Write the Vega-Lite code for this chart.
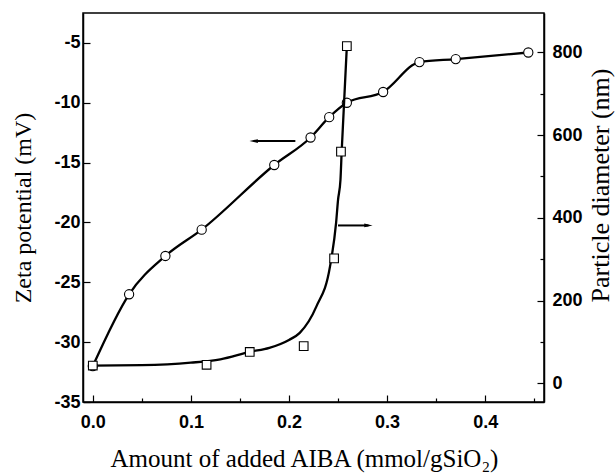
{
  "$schema": "https://vega.github.io/schema/vega-lite/v6.json",
  "width": 461,
  "height": 389,
  "autosize": {"type": "none"},
  "padding": {"left": 83, "top": 13, "right": 71, "bottom": 71},
  "background": "white",
  "config": {
    "view": {"stroke": "black", "strokeWidth": 1.5},
    "axis": {
      "domainColor": "black",
      "domainWidth": 1.5,
      "tickColor": "black",
      "tickWidth": 1.2,
      "labelFont": "Liberation Sans",
      "labelFontWeight": "bold",
      "labelFontSize": 18,
      "labelColor": "black",
      "titleFont": "Liberation Serif",
      "titleFontWeight": "normal",
      "titleFontSize": 24,
      "titleColor": "black",
      "grid": false
    }
  },
  "datasets": {
    "zeta": [
      {"x": 0.0, "zeta": -32.0},
      {"x": 0.037, "zeta": -26.0},
      {"x": 0.074, "zeta": -22.8},
      {"x": 0.111, "zeta": -20.6},
      {"x": 0.185, "zeta": -15.2},
      {"x": 0.222, "zeta": -12.9},
      {"x": 0.241, "zeta": -11.2},
      {"x": 0.259, "zeta": -10.0},
      {"x": 0.296, "zeta": -9.1},
      {"x": 0.333, "zeta": -6.6},
      {"x": 0.370, "zeta": -6.35},
      {"x": 0.444, "zeta": -5.8}
    ],
    "diam": [
      {"x": 0.0, "d": 43},
      {"x": 0.116, "d": 45},
      {"x": 0.160, "d": 76},
      {"x": 0.215, "d": 90},
      {"x": 0.246, "d": 302},
      {"x": 0.253, "d": 560},
      {"x": 0.259, "d": 815}
    ],
    "fit": [
      {"x": 0.0, "d": 43},
      {"x": 0.05, "d": 44},
      {"x": 0.1, "d": 50},
      {"x": 0.13, "d": 58},
      {"x": 0.16, "d": 76},
      {"x": 0.18, "d": 86},
      {"x": 0.2, "d": 105},
      {"x": 0.211, "d": 122},
      {"x": 0.228, "d": 186},
      {"x": 0.2418, "d": 282},
      {"x": 0.248, "d": 387},
      {"x": 0.25, "d": 443},
      {"x": 0.2525, "d": 492},
      {"x": 0.2537, "d": 559},
      {"x": 0.259, "d": 815}
    ],
    "arrows": [
      {"dir": "left", "x": 0.164, "x2": 0.2065, "zeta": -13.2, "head": 0.164},
      {"dir": "right", "x": 0.25, "x2": 0.281, "zeta": -20.25, "head": 0.281}
    ]
  },
  "layer": [
    {
      "layer": [
        {
          "data": {"name": "zeta"},
          "mark": {"type": "line", "interpolate": "monotone", "color": "black", "strokeWidth": 2.3},
          "encoding": {
            "x": {
              "field": "x", "type": "quantitative",
              "scale": {"domain": [-0.01, 0.46], "nice": false, "zero": false},
              "axis": {
                "title": "Amount of added AIBA (mmol/gSiO₂)",
                "titleFontSize": 25,
                "titleX": 221,
                "values": [0, 0.05, 0.1, 0.15, 0.2, 0.25, 0.3, 0.35, 0.4, 0.45],
                "labelExpr": "round(datum.value*20) % 2 == 0 ? format(datum.value, '.1f') : ''",
                "tickSize": {"condition": {"test": "round(datum.value*20) % 2 == 1", "value": -4}, "value": -7},
                "labelPadding": 18,
                "titlePadding": 15
              }
            },
            "y": {
              "field": "zeta", "type": "quantitative",
              "scale": {"domain": [-35, -2.5], "nice": false, "zero": false},
              "axis": {
                "title": "Zeta potential (mV)",
                "values": [-35, -32.5, -30, -27.5, -25, -22.5, -20, -17.5, -15, -12.5, -10, -7.5, -5],
                "labelExpr": "datum.value % 5 == 0 ? toString(datum.value) : ''",
                "tickSize": {"condition": {"test": "datum.value % 5 != 0", "value": -4}, "value": -7},
                "labelPadding": 10,
                "titlePadding": 18
              }
            }
          }
        },
        {
          "data": {"name": "zeta"},
          "mark": {"type": "point", "shape": "circle", "filled": true, "fill": "white", "stroke": "black", "strokeWidth": 1.1, "size": 85, "opacity": 1},
          "encoding": {
            "x": {"field": "x", "type": "quantitative"},
            "y": {"field": "zeta", "type": "quantitative"}
          }
        },
        {
          "data": {"name": "arrows"},
          "mark": {"type": "rule", "color": "black", "strokeWidth": 2},
          "encoding": {
            "x": {"field": "x", "type": "quantitative"},
            "x2": {"field": "x2"},
            "y": {"field": "zeta", "type": "quantitative"}
          }
        },
        {
          "data": {"name": "arrows"},
          "transform": [{"filter": "datum.dir == 'left'"}],
          "mark": {"type": "point", "shape": "M-1,0L1,-0.45L1,0.45Z", "filled": true, "color": "black", "size": 70, "opacity": 1},
          "encoding": {
            "x": {"field": "head", "type": "quantitative"},
            "y": {"field": "zeta", "type": "quantitative"}
          }
        },
        {
          "data": {"name": "arrows"},
          "transform": [{"filter": "datum.dir == 'right'"}],
          "mark": {"type": "point", "shape": "M1,0L-1,-0.45L-1,0.45Z", "filled": true, "color": "black", "size": 70, "opacity": 1},
          "encoding": {
            "x": {"field": "head", "type": "quantitative"},
            "y": {"field": "zeta", "type": "quantitative"}
          }
        }
      ]
    },
    {
      "layer": [
        {
          "data": {"name": "fit"},
          "mark": {"type": "line", "interpolate": "monotone", "color": "black", "strokeWidth": 2.3},
          "encoding": {
            "x": {"field": "x", "type": "quantitative"},
            "y": {
              "field": "d", "type": "quantitative",
              "scale": {"domain": [-45, 895], "nice": false, "zero": false},
              "axis": {
                "orient": "right",
                "title": "Particle diameter (nm)",
                "titleAngle": 270,
                "titleBaseline": "top",
                "titleY": 172,
                "values": [0, 100, 200, 300, 400, 500, 600, 700, 800],
                "labelExpr": "datum.value % 200 == 0 ? toString(datum.value) : ''",
                "tickSize": {"condition": {"test": "datum.value % 200 != 0", "value": -4}, "value": -7},
                "labelPadding": 15,
                "titlePadding": 5,
                "titleFontSize": 26
              }
            }
          }
        },
        {
          "data": {"name": "diam"},
          "mark": {"type": "point", "shape": "square", "filled": true, "fill": "white", "stroke": "black", "strokeWidth": 1.1, "size": 75, "opacity": 1},
          "encoding": {
            "x": {"field": "x", "type": "quantitative"},
            "y": {"field": "d", "type": "quantitative"}
          }
        }
      ]
    }
  ],
  "resolve": {"scale": {"y": "independent"}}
}
